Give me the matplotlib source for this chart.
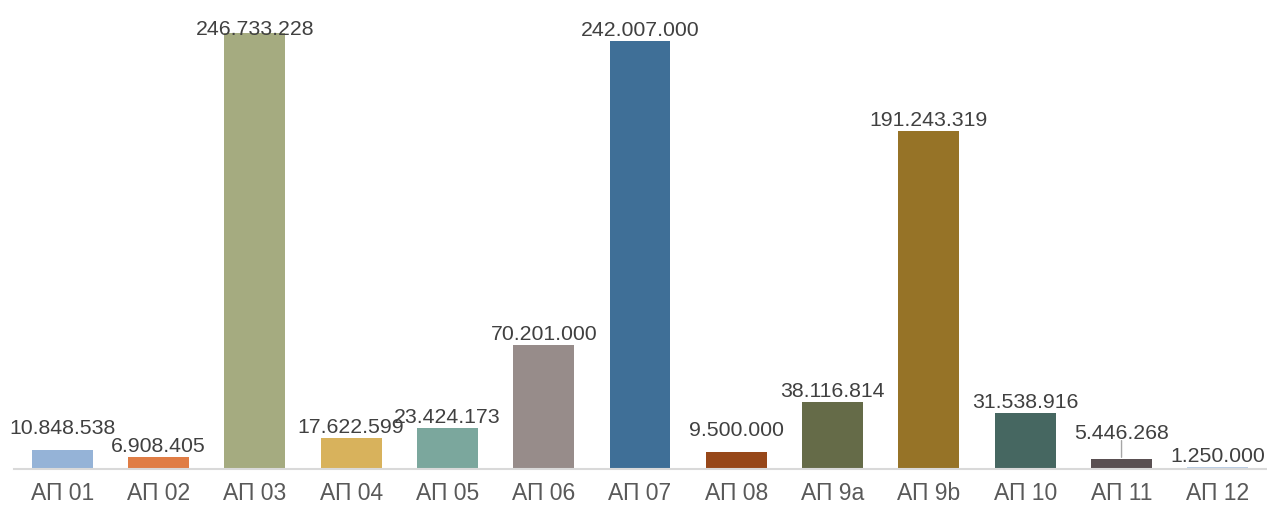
import numpy as np
import matplotlib.pyplot as plt

categories = ['АП 01', 'АП 02', 'АП 03', 'АП 04', 'АП 05', 'АП 06', 'АП 07',
              'АП 08', 'АП 9a', 'АП 9b', 'АП 10', 'АП 11', 'АП 12']
values = [10848538, 6908405, 246733228, 17622599, 23424173, 70201000, 242007000,
          9500000, 38116814, 191243319, 31538916, 5446268, 1250000]
colors = ['#95B3D7', '#E07D45', '#A5AB80', '#D8B25C', '#7BA79D', '#978C8A', '#3F6F97',
          '#974719', '#656B48', '#967327', '#466761', '#5A5052', '#B9CDE5']

# label offsets above bar top, in points (Excel moved a few of them)
label_off = [11.5, 3.5, -1.5, 3.5, 3.5, 3.5, 3.5, 11.5, 3.5, 3.5, 3.5, 15, 3.5]

plt.rcParams['font.family'] = ['Liberation Sans', 'DejaVu Sans']

fig = plt.figure(figsize=(12.67, 5.09), dpi=100)
ax = fig.add_axes([14 / 1267, 40 / 509, 1252 / 1267, 469 / 509])

x = np.arange(len(categories))
ax.bar(x, values, width=0.633, color=colors, zorder=2)

def fmt(v):
    return f'{v:,}'.replace(',', '.')

for i, v in enumerate(values):
    ax.annotate(fmt(v), (x[i], v), xytext=(0, label_off[i]), textcoords='offset points',
                ha='center', va='baseline', fontsize=15.3, color='#404040', zorder=3)

# leader line for АП 11
i11 = categories.index('АП 11')
ax.annotate('', (x[i11], values[i11]), xytext=(0, 13.5), textcoords='offset points',
            arrowprops=dict(arrowstyle='-', color='#A6A6A6', lw=1, shrinkA=0, shrinkB=1.5))

ax.set_xlim(-0.5, len(categories) - 0.5)
ax.set_ylim(0, 265.4e6)
ax.set_xticks(x)
ax.set_xticklabels(categories, fontsize=16.5, color='#595959')
ax.tick_params(axis='x', length=0, pad=9.5)
ax.set_yticks([])
for s in ['top', 'right', 'left']:
    ax.spines[s].set_visible(False)
ax.spines['bottom'].set_color('#D9D9D9')
ax.spines['bottom'].set_linewidth(1.5)

fig.savefig('out.png', dpi=100)
